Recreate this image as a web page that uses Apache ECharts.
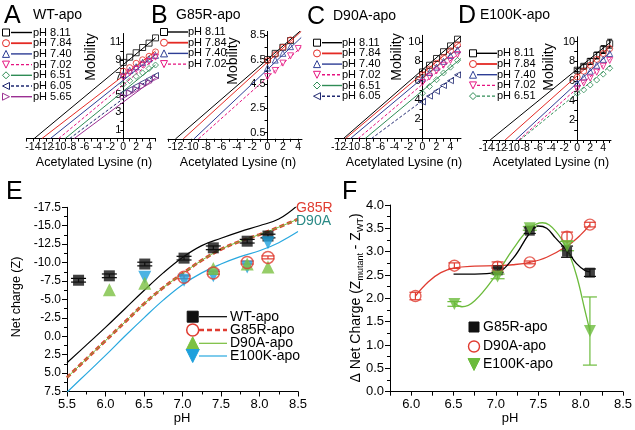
<!DOCTYPE html>
<html><head><meta charset="utf-8">
<script src="https://cdn.jsdelivr.net/npm/echarts@6/dist/echarts.min.js"></script>
<style>html,body{margin:0;padding:0;background:#fff}#c{width:635px;height:430px}</style>
</head><body><div id="c"></div>
<script>
// ---------------- DATA ----------------
// Panel A (WT-apo): mobility vs acetylated lysine n
const aLabels = ['pH 8.11','pH 7.84','pH 7.40','pH 7.02','pH 6.51','pH 6.05','pH 5.65'];
const aN = [0,1,2,3,4,5];
const aMob = [
  [8.7,9.3,9.8,10.4,10.9,11.5],
  [7.7,8.1,8.6,9.0,9.4,9.9],
  [7.3,7.8,8.2,8.7,9.1,9.5],
  [7.0,7.5,7.9,8.4,8.8,9.3],
  [6.2,6.6,7.1,7.5,8.0,8.4],
  [5.2,5.6,6.0,6.4,6.8,7.2],
  [4.8,5.2,5.6,6.0,6.4,6.9]];
// fit lines: [x-intercept, x end, y end]
const aFit = [[-13.8,5,11.5],[-12.6,5,10.0],[-11.3,5,9.6],[-10.0,5,9.2],[-9.0,5,8.4],[-8.3,5,7.3],[-7.6,5,6.9]];
const aXLabels = [-14,-12,-10,-8,-6,-4,-2,0,2,4];
const aXTicks = [-15,-14,-13,-12,-11,-10,-9,-8,-7,-6,-5,-4,-3,-2,-1,0,1,2,3,4,5];
const aYLabels = [1,3,5,7,9,11];
const aYTicks = [1,2,3,4,5,6,7,8,9,10,11];

// Panel B (G85R-apo)
const bLabels = ['pH 8.11','pH 7.84','pH 7.40','pH 7.02'];
const bN = [[0,1,2,3],[0,1,2,3],[0,1,2,3],[0,1,2,3,4]];
const bMob = [[6.5,7.0,7.5,8.05],[6.4,6.9,7.5,8.1],[5.8,6.45,7.0,7.55],[5.1,5.6,6.2,6.8,7.4]];
const bFit = [[-12.0,4.4,8.9],[-11.0,4.4,8.8],[-9.6,4.4,8.3],[-9.0,4.4,7.5]];
const bXLabels = [-12,-10,-8,-6,-4,-2,0,2,4];
const bXTicks = [-13,-12,-11,-10,-9,-8,-7,-6,-5,-4,-3,-2,-1,0,1,2,3,4];
const bYLabels = [0.5,2.5,4.5,6.5,8.5];
const bYTicks = [0.5,1.5,2.5,3.5,4.5,5.5,6.5,7.5,8.5];

// Panel C (D90A-apo)
const cLabels = ['pH 8.11','pH 7.84','pH 7.40','pH 7.02','pH 6.51','pH 6.05'];
const cN = [0,1,2,3,4,5];
const cMob = [
  [6.9,7.6,8.3,9.0,9.6,10.3],
  [6.6,7.2,7.8,8.4,9.1,9.7],
  [6.25,6.85,7.4,8.0,8.6,9.2],
  [5.8,6.4,7.0,7.6,8.1,8.7],
  [4.7,5.4,6.1,6.8,7.4,8.1],
  [3.8,4.4,4.9,5.5,6.0,6.6]];
const cFit = [[-11.3,5.5,10.6],[-11.0,5.5,10.1],[-10.3,5.5,9.6],[-9.2,5.5,9.0],[-8.2,5.5,8.3],[-7.3,5.5,6.9]];
const cXLabels = [-12,-10,-8,-6,-4,-2,0,2,4];
const cXTicks = [-12,-11,-10,-9,-8,-7,-6,-5,-4,-3,-2,-1,0,1,2,3,4,5];
const cYLabels = [2,4,6,8,10];
const cYTicks = [1,2,3,4,5,6,7,8,9,10];

// Panel D (E100K-apo)
const dLabels = ['pH 8.11','pH 7.84','pH 7.40','pH 7.02','pH 6.51'];
const dN = [0,1,2,3,4,5];
const dMob = [
  [7.1,7.5,8.0,8.6,9.2,9.8],
  [6.4,7.0,7.6,8.2,8.8,9.3],
  [5.8,6.4,7.0,7.6,8.2,8.8],
  [5.2,5.8,6.3,6.9,7.5,8.1],
  [4.75,5.1,5.6,6.1,6.7,7.3]];
const dErrBlack = [0.15,0.2,0.3,0.35,0.4,0.45];
const dFit = [[-13.4,5.2,10.0],[-11.1,5.2,9.6],[-9.5,5.2,9.0],[-9.0,5.2,8.3],[-8.8,5.2,7.6]];
const dXLabels = [-14,-12,-10,-8,-6,-4,-2,0,2,4];
const dXTicks = [-14,-13,-12,-11,-10,-9,-8,-7,-6,-5,-4,-3,-2,-1,0,1,2,3,4,5];
const dYLabels = [2,4,6,8,10];
const dYTicks = [1,2,3,4,5,6,7,8,9,10];

// Panel E: net charge vs pH
const ePH_WT = [5.65,6.05,6.51,7.02,7.40,7.84,8.11];
const eZ_WT = [-7.6,-8.2,-9.8,-10.6,-12.0,-12.9,-13.6];
const eErr_WT = [0.25,0.25,0.25,0.25,0.25,0.25,0.25];
const ePH_G85R = [7.02,7.40,7.84,8.11];
const eZ_G85R = [-8.0,-8.6,-10.0,-10.7];
const eErr_G85R = [0.2,0.2,0.2,0.2];
const ePH_D90A = [6.05,6.51,7.40,7.84,8.11];
const eZ_D90A = [-6.3,-7.2,-9.2,-9.8,-9.4];
const ePH_E100K = [6.51,7.02,7.40,7.84,8.11];
const eZ_E100K = [-8.0,-7.6,-8.2,-9.4,-12.7];
const eCurvePH = [5.5,5.75,6.0,6.25,6.5,6.75,7.0,7.25,7.5,7.75,8.0,8.25,8.5];
const eCurveWT = [3.6,1.2,-1.2,-3.7,-6.2,-8.6,-10.7,-12.3,-13.3,-14.2,-15.0,-15.9,-17.8];
const eCurveG85R = [5.6,3.1,0.6,-1.9,-4.4,-6.6,-8.5,-10.3,-11.8,-12.9,-13.8,-14.8,-15.9];
const eCurveD90A = [5.6,3.1,0.6,-1.9,-4.4,-6.6,-8.5,-10.3,-11.8,-12.9,-13.8,-14.8,-15.9];
const eCurveE100K = [7.6,5.1,2.6,0.0,-2.5,-4.9,-7.0,-8.6,-9.8,-10.8,-11.6,-12.7,-14.2];

// Panel F: delta net charge vs pH
const fPH_G85R = [7.02,7.40,7.84,8.11];
const fD_G85R = [2.6,3.45,3.0,2.55];
const fE_G85R = [0.05,0.06,0.12,0.08];
const fPH_D90A = [6.05,6.51,7.02,7.40,7.84,8.11];
const fD_D90A = [2.05,2.7,2.68,2.77,3.32,3.58];
const fE_D90A = [0.08,0.06,0.1,0.03,0.1,0.05];
const fPH_E100K = [6.51,7.02,7.40,7.84,8.11];
const fD_E100K = [1.88,2.47,3.5,3.12,1.3];
const fE_E100K = [0.05,0.05,0.04,0.1,0.73];
const fCurvePH_G85R = [6.5,6.75,7.0,7.2,7.4,7.5,7.6,7.7,7.84,7.95,8.05,8.11];
const fCurve_G85R = [2.52,2.52,2.55,2.85,3.4,3.55,3.5,3.3,3.02,2.75,2.6,2.57];
const fCurvePH_D90A = [6.05,6.2,6.35,6.51,6.75,7.0,7.2,7.4,7.6,7.84,8.0,8.11];
const fCurve_D90A = [2.05,2.35,2.55,2.65,2.69,2.7,2.72,2.77,2.88,3.12,3.36,3.58];
const fCurvePH_E100K = [6.51,6.6,6.75,7.0,7.2,7.4,7.55,7.7,7.84,7.95,8.05,8.11];
const fCurve_E100K = [1.9,1.82,1.95,2.5,3.05,3.5,3.62,3.45,3.05,2.5,1.75,1.3];
const fXLabels = [6.0,6.5,7.0,7.5,8.0,8.5];
const fXTicks = [5.75,6.0,6.25,6.5,6.75,7.0,7.25,7.5,7.75,8.0,8.25,8.5];

// ---------------- STYLE / LAYOUT ----------------
const FONT = '"Liberation Sans", Arial, Helvetica, sans-serif';
const COL = {k:'#000000', r:'#e42a24', b:'#2d3d95', m:'#e5127f', g:'#2f8c55', n:'#1f2870', p:'#9b2f92'};
const SYM = {rect:['rect',0], circle:['circle',0], up:['triangle',0], down:['triangle',180], left:['triangle',90], right:['triangle',-90], diamond:['diamond',0]};
const stA = [['rect','k','s'],['circle','r','s'],['up','b','s'],['down','m','d'],['diamond','g','s'],['left','n','d'],['right','p','s']];
const stB = stA.slice(0,4);
const stC = stA.slice(0,6);
const stD = [['rect','k','s'],['circle','r','s'],['up','b','s'],['down','m','d'],['diamond','g','d']];

const grids = [
  {left:26.5, top:33.5, width:129, height:105},
  {left:168, top:31.4, width:134, height:107.4},
  {left:335, top:35.3, width:126, height:103.3},
  {left:483, top:36.8, width:128, height:103.2},
  {left:67, top:207.3, width:231, height:184.2},
  {left:390, top:205, width:238, height:186.7}
];
const xAxis = [], yAxis = [], series = [], els = [];
const xMain = [];
const axLine = {onZero:false, lineStyle:{color:'#000', width:1}};

function smallAxes(gi, xr, xl, xt, yr, yl, yt) {
  // main x axis (line + ticks + alternate labels)
  xMain[gi] = xAxis.length;
  const lab = {fontSize:10.5, color:'#000', margin:3, fontFamily:FONT, hideOverlap:false};
  xAxis.push({gridIndex:gi, type:'value', position:'bottom', offset:0, min:xr[0], max:xr[1], axisLine:axLine, splitLine:{show:false},
    axisTick:{customValues:xt, length:3, lineStyle:{color:'#000'}},
    axisLabel:Object.assign({customValues:xl.filter((v,i)=>i%2===0)}, lab)});
  // overlay axis carrying the remaining labels (avoids automatic overlap hiding)
  xAxis.push({gridIndex:gi, type:'value', position:'bottom', offset:0, min:xr[0], max:xr[1],
    axisLine:{show:false}, axisTick:{show:false}, splitLine:{show:false},
    axisLabel:Object.assign({customValues:xl.filter((v,i)=>i%2===1)}, lab)});
  // y axis drawn at n = 0
  const off = -(0 - xr[0]) / (xr[1] - xr[0]) * grids[gi].width;
  yAxis.push({gridIndex:gi, type:'value', min:yr[0], max:yr[1], position:'left', offset:off,
    axisLine:axLine, splitLine:{show:false},
    axisTick:{customValues:yt, length:3, lineStyle:{color:'#000'}},
    axisLabel:{customValues:yl, fontSize:11, color:'#000', margin:2, fontFamily:FONT, hideOverlap:false}});
}
function addSmall(gi, nArr, mob, fit, styles) {
  mob.forEach((vals, i) => {
    const [shape, ck, dash] = styles[i];
    const c = COL[ck];
    series.push({type:'line', xAxisIndex:xMain[gi], yAxisIndex:gi, data:[[fit[i][0],0],[fit[i][1],fit[i][2]]],
      symbol:'none', silent:true, z:2,
      lineStyle:{color:c, width:1, type: dash==='d' ? [3,2] : 'solid'}});
    const ns = Array.isArray(nArr[0]) ? nArr[i] : nArr;
    series.push({type:'scatter', xAxisIndex:xMain[gi], yAxisIndex:gi, data: ns.map((n,j)=>[n, vals[j]]),
      symbol: SYM[shape][0], symbolRotate: SYM[shape][1], symbolSize: 6, z:3,
      itemStyle:{color:'rgba(255,255,255,0)', borderColor:c, borderWidth:1}});
  });
}
function errSeries(xi, yi, xs, ys, es, color, cap, lw) {
  return {type:'custom', xAxisIndex:xi, yAxisIndex:yi, z:3, silent:true,
    data: xs.map((x,i)=>[x, ys[i], ys[i]-es[i], ys[i]+es[i]]),
    encode:{x:0, y:1},
    renderItem: (params, api) => {
      const x = api.value(0);
      const lo = api.coord([x, api.value(2)]), hi = api.coord([x, api.value(3)]);
      const st = {stroke:color, lineWidth:lw};
      const w = cap/2;
      return {type:'group', children:[
        {type:'line', shape:{x1:lo[0], y1:lo[1], x2:hi[0], y2:hi[1]}, style:st},
        {type:'line', shape:{x1:lo[0]-w, y1:lo[1], x2:lo[0]+w, y2:lo[1]}, style:st},
        {type:'line', shape:{x1:hi[0]-w, y1:hi[1], x2:hi[0]+w, y2:hi[1]}, style:st}]};
    }};
}
function symEl(kind, cx, cy, s, stroke, fill, lw) {
  const h = s/2; let el;
  if (kind==='rect') el = {type:'rect', shape:{x:cx-h, y:cy-h, width:s, height:s}};
  else if (kind==='circle') el = {type:'circle', shape:{cx:cx, cy:cy, r:h}};
  else {
    const P = {up:[[cx,cy-h],[cx+h,cy+h],[cx-h,cy+h]], down:[[cx-h,cy-h],[cx+h,cy-h],[cx,cy+h]],
      left:[[cx-h,cy],[cx+h,cy-h],[cx+h,cy+h]], right:[[cx+h,cy],[cx-h,cy-h],[cx-h,cy+h]],
      diamond:[[cx,cy-h],[cx+h,cy],[cx,cy+h],[cx-h,cy]]};
    el = {type:'polygon', shape:{points:P[kind]}};
  }
  el.style = {stroke:stroke, fill:fill, lineWidth:lw};
  el.z = 10;
  return el;
}
function txt(t, x, y, size, color, align, extra) {
  return {type:'text', x:x, y:y, z:10, style:Object.assign({text:t, fontSize:size, fontFamily:FONT, fill:color||'#000', align:align||'left', verticalAlign:'middle'}, extra||{})};
}
function smallLegend(labels, styles, sx, l1, l2, tx, y0, dy) {
  labels.forEach((lab, i) => {
    const y = y0 + i*dy;
    const [shape, ck, dash] = styles[i];
    const c = COL[ck];
    els.push(symEl(shape, sx, y, 7, c, 'none', 1));
    els.push({type:'line', z:10, shape:{x1:l1, y1:y, x2:l2, y2:y},
      style:{stroke:c, lineWidth: ck==='r' ? 1.8 : 1.4, lineDash: dash==='d' ? [3,2] : null}});
    els.push(txt(lab, tx, y, 11, '#000', 'left'));
  });
}

// small panels
smallAxes(0, [-15,5], aXLabels, aXTicks, [0,12], aYLabels, aYTicks);
smallAxes(1, [-13,4.5], bXLabels, bXTicks, [0,8.8], bYLabels, bYTicks);
smallAxes(2, [-12.5,5.5], cXLabels, cXTicks, [0,10.7], cYLabels, cYTicks);
smallAxes(3, [-14.5,5.2], dXLabels, dXTicks, [0,10.5], dYLabels, dYTicks);
addSmall(0, aN, aMob, aFit, stA);
addSmall(1, bN, bMob, bFit, stB);
addSmall(2, cN, cMob, cFit, stC);
series.push(errSeries(xMain[3], 3, dN, dMob[0], dErrBlack, '#000', 5, 1));
addSmall(3, dN, dMob, dFit, stD);

smallLegend(aLabels, stA, 6, 11, 32, 33, 32.5, 10.7);
smallLegend(bLabels, stB, 164, 168, 188, 188, 32, 10.7);
smallLegend(cLabels, stC, 317, 322, 342, 342, 42.7, 10.7);
smallLegend(dLabels, stD, 473, 477, 497, 497, 53.3, 10.7);

// panel letters and titles
els.push(txt('A', 4, 16, 25, '#000', 'left'));
els.push(txt('WT-apo', 33, 15, 14, '#000', 'left'));
els.push(txt('B', 151, 16, 25, '#000', 'left'));
els.push(txt('G85R-apo', 176, 15, 14, '#000', 'left'));
els.push(txt('C', 307, 17, 25, '#000', 'left'));
els.push(txt('D90A-apo', 333, 16, 14, '#000', 'left'));
els.push(txt('D', 458, 16, 25, '#000', 'left'));
els.push(txt('E100K-apo', 480, 15, 14, '#000', 'left'));
els.push(txt('E', 6, 192, 25, '#000', 'left'));
els.push(txt('F', 342, 192, 25, '#000', 'left'));

// small axis titles
[[91,57],[233,61],[397,57],[549,67]].forEach(p => {
  const t = txt('Mobility', p[0], p[1], 14, '#000', 'center'); t.rotation = Math.PI/2; els.push(t);
});
[[94,163],[238,163],[404,163],[551,163]].forEach(p => els.push(txt('Acetylated Lysine (n)', p[0], p[1], 12.5, '#000', 'center')));

// ---------------- Panel E ----------------
const xE = xAxis.length;
xAxis.push({gridIndex:4, type:'value', min:5.5, max:8.5, interval:0.5, axisLine:axLine, splitLine:{show:false},
  axisTick:{length:5, lineStyle:{color:'#000'}}, minorTick:{show:true, splitNumber:2, length:3, lineStyle:{color:'#000'}},
  axisLabel:{fontSize:13, color:'#000', margin:6, fontFamily:FONT, formatter:v=>v.toFixed(1)}});
yAxis.push({gridIndex:4, type:'value', inverse:true, min:-17.5, max:7.5, interval:2.5, axisLine:axLine, splitLine:{show:false},
  axisTick:{length:5, lineStyle:{color:'#000'}}, minorTick:{show:true, splitNumber:2, length:3, lineStyle:{color:'#000'}},
  axisLabel:{fontSize:12, color:'#000', margin:6, fontFamily:FONT, formatter:v=>v.toFixed(1)}});
const zip = (a,b) => a.map((x,i)=>[x,b[i]]);
const E = {xAxisIndex:xE, yAxisIndex:4};
series.push(Object.assign({type:'line', data:zip(eCurvePH,eCurveWT), smooth:0.4, symbol:'none', lineStyle:{color:'#000', width:1.2}, z:2}, E));
series.push(Object.assign({type:'line', data:zip(eCurvePH,eCurveE100K), smooth:0.4, symbol:'none', lineStyle:{color:'#29a8df', width:1.2}, z:2}, E));
series.push(Object.assign({type:'line', data:zip(eCurvePH,eCurveG85R), smooth:0.4, symbol:'none', lineStyle:{color:'#e03c31', width:3, type:[5,3]}, z:2}, E));
series.push(Object.assign({type:'line', data:zip(eCurvePH,eCurveD90A), smooth:0.4, symbol:'none', lineStyle:{color:'#77bd3a', width:1}, z:2}, E));
series.push(errSeries(xE, 4, ePH_WT, eZ_WT, eErr_WT, '#000', 15, 1.2));
series.push(Object.assign({type:'scatter', data:zip(ePH_WT,eZ_WT), symbol:'rect', symbolSize:11, itemStyle:{color:'#111'}, z:4}, E));
series.push(Object.assign({type:'scatter', data:zip(ePH_E100K,eZ_E100K), symbol:'triangle', symbolRotate:180, symbolSize:13, itemStyle:{color:'#1ea0dc'}, z:4}, E));
series.push(Object.assign({type:'scatter', data:zip(ePH_D90A,eZ_D90A), symbol:'triangle', symbolSize:13, itemStyle:{color:'#7cc142'}, z:4}, E));
series.push(errSeries(xE, 4, ePH_G85R, eZ_G85R, eErr_G85R, '#e03c31', 13, 1.2));
series.push(Object.assign({type:'scatter', data:zip(ePH_G85R,eZ_G85R), symbol:'circle', symbolSize:12, itemStyle:{color:'rgba(255,255,255,0)', borderColor:'#e03c31', borderWidth:1.5}, z:5}, E));

// E labels and legend
els.push(txt('G85R', 296, 208, 14, '#e03c31', 'left'));
els.push(txt('D90A', 296, 221, 14, '#2a8a86', 'left'));
{
  const t = txt('Net charge (Z)', 17, 297, 12.5, '#000', 'center'); t.rotation = Math.PI/2; els.push(t);
}
els.push(txt('pH', 182, 418, 13, '#000', 'center'));
const eLeg = [['WT-apo','rect','#111','#111',1.2,null,11],['G85R-apo','circle','#e03c31','none',2.6,[5,3],12],
  ['D90A-apo','up','#7cc142','#7cc142',1.2,null,13],['E100K-apo','down','#1ea0dc','#1ea0dc',1.2,null,13]];
const eLegLine = ['#000','#e03c31','#77bd3a','#29a8df'];
[316.7,330,343.3,356].forEach((y,i) => {
  const L = eLeg[i];
  els.push(symEl(L[1], 192.7, y, L[6], L[2], L[3], L[1]==='circle'?1.5:1));
  els.push({type:'line', z:10, shape:{x1:199, y1:y, x2:227, y2:y}, style:{stroke:eLegLine[i], lineWidth:L[4], lineDash:L[5]}});
  els.push(txt(L[0], 230, y, 14, '#000', 'left'));
});

// ---------------- Panel F ----------------
const xF = xAxis.length;
xAxis.push({gridIndex:5, type:'value', min:5.75, max:8.5, axisLine:axLine, splitLine:{show:false},
  axisTick:{customValues:fXTicks, length:4, lineStyle:{color:'#000'}},
  axisLabel:{customValues:fXLabels, fontSize:13, color:'#000', margin:6, fontFamily:FONT, formatter:v=>v.toFixed(1)}});
yAxis.push({gridIndex:5, type:'value', min:0, max:4, interval:0.5, axisLine:axLine, splitLine:{show:false},
  axisTick:{length:5, lineStyle:{color:'#000'}}, minorTick:{show:true, splitNumber:2, length:3, lineStyle:{color:'#000'}},
  axisLabel:{fontSize:13, color:'#000', margin:6, fontFamily:FONT, formatter:v=>v.toFixed(1)}});
const F = {xAxisIndex:xF, yAxisIndex:5};
series.push(Object.assign({type:'line', data:zip(fCurvePH_D90A,fCurve_D90A), smooth:0.4, symbol:'none', lineStyle:{color:'#e03c31', width:1.3}, z:2}, F));
series.push(Object.assign({type:'line', data:zip(fCurvePH_G85R,fCurve_G85R), smooth:0.4, symbol:'none', lineStyle:{color:'#000', width:1.3}, z:2}, F));
series.push(Object.assign({type:'line', data:zip(fCurvePH_E100K,fCurve_E100K), smooth:0.4, symbol:'none', lineStyle:{color:'#6cbb3c', width:1.3}, z:2}, F));
series.push(errSeries(xF, 5, fPH_G85R, fD_G85R, fE_G85R, '#000', 12, 1.2));
series.push(errSeries(xF, 5, fPH_D90A, fD_D90A, fE_D90A, '#e03c31', 12, 1.2));
series.push(errSeries(xF, 5, fPH_E100K, fD_E100K, fE_E100K, '#6cbb3c', 14, 1.2));
series.push(Object.assign({type:'scatter', data:zip(fPH_G85R,fD_G85R), symbol:'rect', symbolSize:10, itemStyle:{color:'#111'}, z:4}, F));
series.push(Object.assign({type:'scatter', data:zip(fPH_D90A,fD_D90A), symbol:'circle', symbolSize:11, itemStyle:{color:'rgba(255,255,255,0)', borderColor:'#e03c31', borderWidth:1.4}, z:4}, F));
series.push(Object.assign({type:'scatter', data:zip(fPH_E100K,fD_E100K), symbol:'triangle', symbolRotate:180, symbolSize:12, itemStyle:{color:'#6cbb3c'}, z:4}, F));

{
  const t = txt('{a|Δ Net Charge (Z}{s|mutant}{a| - Z}{s|WT}{a|)}', 356, 298, 14, '#000', 'center', {
    rich:{a:{fontSize:14, fontFamily:FONT, fill:'#000'}, s:{fontSize:9, fontFamily:FONT, fill:'#000', padding:[9,0,0,0]}}});
  t.rotation = Math.PI/2; els.push(t);
}
els.push(txt('pH', 510, 418, 13, '#000', 'center'));
const fLeg = [['G85R-apo','rect','#111','#111',10],['D90A-apo','circle','#e03c31','none',11],['E100K-apo','down','#6cbb3c','#6cbb3c',12]];
[327,346.5,364.5].forEach((y,i) => {
  const L = fLeg[i];
  els.push(symEl(L[1], 474, y, L[4], L[2], L[3], L[1]==='circle'?1.4:1));
  els.push(txt(L[0], 483, y, 14, '#000', 'left'));
});

const chart = echarts.init(document.getElementById('c'), null, {renderer:'canvas'});
chart.setOption({
  animation:false,
  backgroundColor:'#fff',
  textStyle:{fontFamily:FONT},
  grid: grids,
  xAxis: xAxis,
  yAxis: yAxis,
  series: series,
  graphic: {elements: els}
});
</script>
</body></html>
